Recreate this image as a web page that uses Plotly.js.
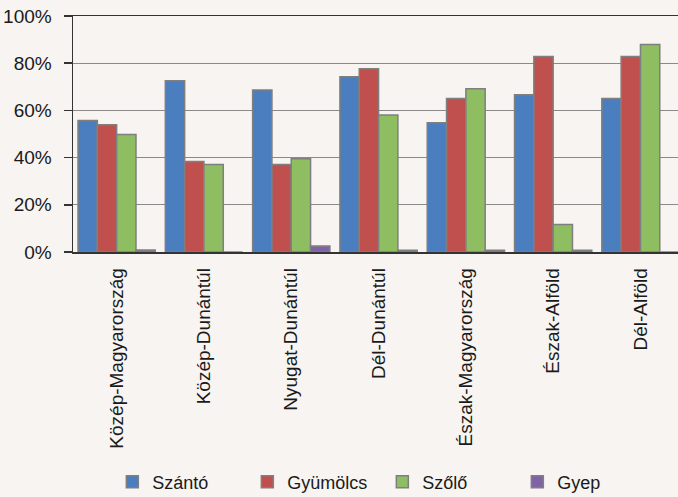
<!DOCTYPE html>
<html>
<head>
<meta charset="utf-8">
<script src="https://cdn.plot.ly/plotly-3.0.1.min.js"></script>
<style>
html,body{margin:0;padding:0;background:#f7f4f1;overflow:hidden;}
#chart{width:678px;height:497px;}
</style>
</head>
<body>
<div id="chart"></div>
<script>
var categories = ["Közép-Magyarország","Közép-Dunántúl","Nyugat-Dunántúl","Dél-Dunántúl","Észak-Magyarország","Észak-Alföld","Dél-Alföld"];
var szanto   = [55.7, 72.6, 68.6, 74.3, 54.8, 66.6, 65.0];
var gyumolcs = [53.9, 38.3, 37.1, 77.6, 65.0, 82.8, 82.8];
var szolo    = [49.8, 37.1, 39.5, 58.1, 69.2, 11.7, 87.9];
var gyep     = [0.8, 0.0, 2.5, 0.7, 0.7, 0.7, 0.0];
var seriesNames = ["Szántó","Gyümölcs","Szőlő","Gyep"];
var tickVals = [0,20,40,60,80,100];
var tickText = ["0%","20%","40%","60%","80%","100%"];

var colors = ["#4a7ebf","#c0504d","#8fbd62","#7f63a6"];
var values = [szanto, gyumolcs, szolo, gyep];
var data = values.map(function(v,i){
  return {
    type:"bar", x:categories, y:v, name:seriesNames[i],
    marker:{color:colors[i], line:{color:"#7f7f7f", width:1.5}},
    hoverinfo:"skip"
  };
});

var FONT = 'Arial, "Liberation Sans", sans-serif';
var layout = {
  width:678, height:497,
  margin:{l:73, r:0, t:16, b:245, autoexpand:false},
  paper_bgcolor:"#f7f4f1", plot_bgcolor:"#f7f4f1",
  barmode:"group", bargap:0.115, bargroupgap:0,
  font:{family:FONT, color:"#1a1a1a"},
  xaxis:{
    type:"category", range:[-0.5, 6.43], automargin:false,
    showline:true, linecolor:"#333333", linewidth:1.5, mirror:true,
    showgrid:false, ticks:"", tickangle:-90,
    tickfont:{family:FONT, size:19, color:"#1a1a1a"},
    ticklabelstandoff:7,
    fixedrange:true
  },
  yaxis:{
    range:[0,100], tickvals:tickVals, ticktext:tickText, automargin:false,
    showline:true, linecolor:"#333333", linewidth:1.5,
    showgrid:true, gridcolor:"#8a8a8a", gridwidth:1,
    ticks:"outside", ticklen:8, tickcolor:"#333333", tickwidth:1.5,
    tickfont:{family:FONT, size:19, color:"#1a1a1a"},
    ticklabelstandoff:8,
    zeroline:false, fixedrange:true
  },
  showlegend:true,
  legend:{
    orientation:"h", x:0.065, xanchor:"left", y:-0.975, yanchor:"middle",
    font:{family:FONT, size:18, color:"#1a1a1a"}, bgcolor:"rgba(0,0,0,0)",
    entrywidth:90, traceorder:"normal"
  }
};

Plotly.newPlot("chart", data, layout, {displayModeBar:false, staticPlot:true});
</script>
</body>
</html>
